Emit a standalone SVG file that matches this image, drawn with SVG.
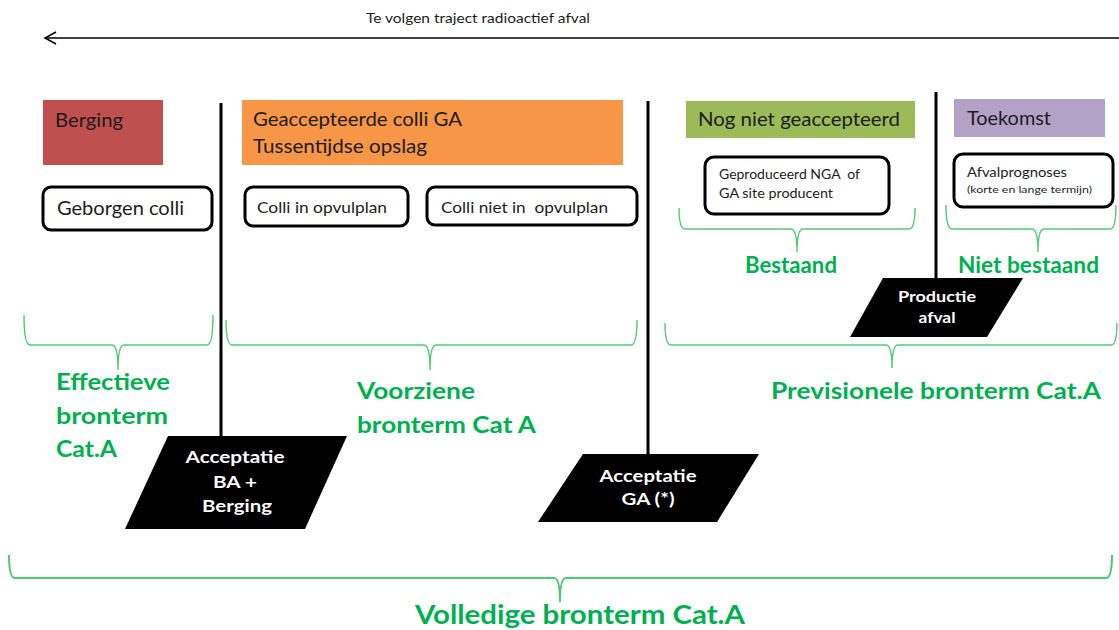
<svg xmlns="http://www.w3.org/2000/svg" width="1119" height="630" viewBox="0 0 1119 630">
  <style>
    text { font-family: Lato, "Liberation Sans", sans-serif; }
    .lbl { fill: #1c1c1c; font-size: 19px; }
    .small { fill: #1c1c1c; font-size: 16px; }
    .tiny { fill: #1c1c1c; font-size: 13px; }
    .grn { fill: #00B050; font-size: 23px; font-weight: bold; }
    .wht { fill: #ffffff; font-size: 17px; font-weight: bold; text-anchor: middle; }
    .box { fill: #ffffff; stroke: #000000; stroke-width: 3; }
    .brace { fill: none; stroke: #4CCB75; stroke-width: 1.4; }
    .divider { stroke: #000000; stroke-width: 3; }
    .gate { fill: #000000; }
  </style>

  <rect width="1119" height="630" fill="#ffffff"/>

  <!-- direction of the waste route -->
  <g id="route">
    <text x="366" y="23" style="font-size:12.5px;fill:#1c1c1c" textLength="224" lengthAdjust="spacingAndGlyphs">Te volgen traject radioactief afval</text>
    <line x1="46" y1="38" x2="1119" y2="38" stroke="#000" stroke-width="1.5"/>
    <polyline points="56,32 45,38 56,44" fill="none" stroke="#000" stroke-width="1.5"/>
  </g>

  <!-- phase dividers -->
  <g id="connectors">
    <line class="divider" x1="221" y1="103" x2="221" y2="437"/>
    <line class="divider" x1="648" y1="101" x2="648" y2="455"/>
    <line class="divider" x1="936" y1="92" x2="936" y2="279"/>
  </g>

  <!-- phase headers -->
  <g id="berging">
    <rect x="43" y="100" width="120" height="65" fill="#C0504D"/>
    <text class="lbl" x="55" y="127" textLength="68" lengthAdjust="spacingAndGlyphs">Berging</text>
  </g>
  <g id="tussentijdse-opslag">
    <rect x="242" y="100" width="381" height="65" fill="#F79646"/>
    <text class="lbl" x="253" y="126" textLength="209" lengthAdjust="spacingAndGlyphs">Geaccepteerde colli GA</text>
    <text class="lbl" x="253" y="153" textLength="174" lengthAdjust="spacingAndGlyphs">Tussentijdse opslag</text>
  </g>
  <g id="nog-niet-geaccepteerd">
    <rect x="686" y="101" width="229" height="37" fill="#9BBB59"/>
    <text class="lbl" x="698" y="126" textLength="202" lengthAdjust="spacingAndGlyphs">Nog niet geaccepteerd</text>
  </g>
  <g id="toekomst">
    <rect x="954" y="99" width="151" height="38" fill="#B3A2C7"/>
    <text class="lbl" x="967" y="125" textLength="84" lengthAdjust="spacingAndGlyphs">Toekomst</text>
  </g>

  <!-- inventory boxes -->
  <g id="geborgen-colli">
    <rect class="box" x="43" y="187" width="169" height="43" rx="8"/>
    <text class="lbl" x="57" y="215" textLength="127" lengthAdjust="spacingAndGlyphs">Geborgen colli</text>
  </g>
  <g id="colli-in-opvulplan">
    <rect class="box" x="245" y="187" width="163" height="39" rx="8"/>
    <text class="small" x="257" y="213" textLength="130" lengthAdjust="spacingAndGlyphs">Colli in opvulplan</text>
  </g>
  <g id="colli-niet-in-opvulplan">
    <rect class="box" x="427" y="187" width="210" height="38" rx="8"/>
    <text class="small" x="441" y="213" textLength="167" lengthAdjust="spacingAndGlyphs">Colli niet in&#160; opvulplan</text>
  </g>
  <g id="geproduceerd-nga">
    <rect class="box" x="705" y="157" width="184" height="57" rx="9"/>
    <text class="tiny" x="719" y="179" textLength="141" lengthAdjust="spacingAndGlyphs">Geproduceerd NGA&#160; of</text>
    <text class="tiny" x="719" y="198" textLength="114" lengthAdjust="spacingAndGlyphs">GA site producent</text>
  </g>
  <g id="afvalprognoses">
    <rect class="box" x="954" y="154" width="159" height="53" rx="9"/>
    <text class="tiny" x="967" y="177" textLength="100" lengthAdjust="spacingAndGlyphs">Afvalprognoses</text>
    <text x="967" y="193" style="font-size:10px;fill:#1c1c1c" textLength="125" lengthAdjust="spacingAndGlyphs">(korte en lange termijn)</text>
  </g>

  <!-- grouping braces -->
  <g id="braces">
    <path class="brace" d="M24,315 Q24,345 30,345 L112,345 Q118,345 118,370 Q118,345 124,345 L207,345 Q213,345 213,315"/>
    <path class="brace" d="M226,320 Q226,345 232,345 L424,345 Q430,345 430,370 Q430,345 436,345 L631,345 Q637,345 637,320"/>
    <path class="brace" d="M665,323 Q665,345 671,345 L886,345 Q892,345 892,368 Q892,345 898,345 L1111,345 Q1117,345 1117,323"/>
    <path class="brace" d="M679,208 Q679,229 685,229 L791,229 Q797,229 797,252 Q797,229 803,229 L909,229 Q915,229 915,208"/>
    <path class="brace" d="M946,205 Q946,229 952,229 L1032,229 Q1038,229 1038,252 Q1038,229 1044,229 L1110,229 Q1116,229 1116,205"/>
    <path class="brace" style="stroke-width:2" d="M9,555 Q9,578 15,578 L554,578 Q560,578 560,602 Q560,578 566,578 L1106,578 Q1112,578 1112,555"/>
  </g>

  <!-- brace labels -->
  <g id="labels">
    <text class="grn" x="745" y="273" textLength="92" lengthAdjust="spacingAndGlyphs">Bestaand</text>
    <text class="grn" x="958" y="273" textLength="141" lengthAdjust="spacingAndGlyphs">Niet bestaand</text>
    <text class="grn" x="56" y="390" textLength="114" lengthAdjust="spacingAndGlyphs">Effectieve</text>
    <text class="grn" x="56" y="424" textLength="112" lengthAdjust="spacingAndGlyphs">bronterm</text>
    <text class="grn" x="56" y="457" textLength="61" lengthAdjust="spacingAndGlyphs">Cat.A</text>
    <text class="grn" x="357" y="399" textLength="118" lengthAdjust="spacingAndGlyphs">Voorziene</text>
    <text class="grn" x="357" y="433" textLength="179" lengthAdjust="spacingAndGlyphs">bronterm Cat A</text>
    <text class="grn" x="771" y="399" textLength="330" lengthAdjust="spacingAndGlyphs">Previsionele bronterm Cat.A</text>
    <text class="grn" x="415" y="624" style="font-size:27px" textLength="330" lengthAdjust="spacingAndGlyphs">Volledige bronterm Cat.A</text>
  </g>

  <!-- acceptance / production gates -->
  <g id="productie-afval">
    <polygon class="gate" points="883,278 1023,278 987,337 850,337"/>
    <text class="wht" x="937" y="302" style="font-size:15px" textLength="78" lengthAdjust="spacingAndGlyphs">Productie</text>
    <text class="wht" x="937" y="323" style="font-size:15px" textLength="37" lengthAdjust="spacingAndGlyphs">afval</text>
  </g>
  <g id="acceptatie-ba-berging">
    <polygon class="gate" points="168,436 347,436 305,529 125,529"/>
    <text class="wht" x="235" y="463" textLength="99" lengthAdjust="spacingAndGlyphs">Acceptatie</text>
    <text class="wht" x="235" y="488" textLength="44" lengthAdjust="spacingAndGlyphs">BA +</text>
    <text class="wht" x="237" y="512" textLength="70" lengthAdjust="spacingAndGlyphs">Berging</text>
  </g>
  <g id="acceptatie-ga">
    <polygon class="gate" points="583,454 759,454 717,522 538,522"/>
    <text class="wht" x="648" y="482" textLength="97" lengthAdjust="spacingAndGlyphs">Acceptatie</text>
    <text class="wht" x="648" y="505" textLength="53" lengthAdjust="spacingAndGlyphs">GA (*)</text>
  </g>
</svg>
